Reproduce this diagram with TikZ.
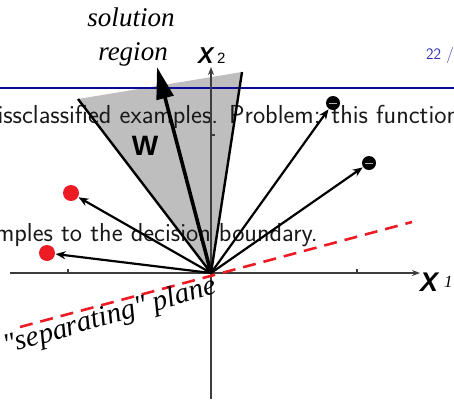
\documentclass[tikz,border=0pt]{standalone}
\usepackage{fontspec}
\usetikzlibrary{arrows.meta}
\newfontfamily\tmsfont{Liberation Serif}
\newfontfamily\hlvfont{Liberation Sans}
\definecolor{regiongray}{RGB}{190,190,190}
\definecolor{ballred}{RGB}{237,28,36}
\definecolor{dashred}{RGB}{237,28,36}
\definecolor{headblue}{RGB}{10,10,150}
\definecolor{pageblue}{RGB}{51,51,179}
\definecolor{axisgray}{RGB}{60,60,60}
\tikzset{
  slidetext/.style={inner sep=0pt, anchor=base west, font=\sffamily\fontsize{26}{30}\selectfont, text=black!90},
  axisline/.style={draw=axisgray, line width=1.5pt, -{Stealth[length=8pt,width=6pt]}},
  tickline/.style={draw=axisgray, line width=1.2pt},
  vec/.style={draw=black, line width=2.2pt, -{Stealth[length=10pt,width=8pt]}, shorten >=0.5pt},
  edgeline/.style={draw=black, line width=2.4pt},
  wvec/.style={draw=black, line width=3.6pt, -{Triangle[length=32pt,width=17pt]}},
  negball/.style={circle, fill=black, minimum size=14pt, inner sep=0pt,
    path picture={\draw[gray!60, line width=1pt] ([xshift=-4pt]path picture bounding box.center) -- ([xshift=4pt]path picture bounding box.center);}},
  posball/.style={circle, fill=ballred, minimum size=16pt, inner sep=0pt},
  seplabel/.style={font=\tmsfont\itshape\fontsize{27}{31}\selectfont, inner sep=0pt},
  axlabel/.style={font=\hlvfont\bfseries\itshape\fontsize{23}{26}\selectfont, inner sep=0pt, anchor=base west},
}
\begin{document}
\begin{tikzpicture}[x=1pt,y=-1pt]
\clip (0,0) rectangle (454,399);
\coordinate (O) at (211,273);
\coordinate (gl) at (78,99);
\coordinate (gr) at (242,72);
\coordinate (wt) at (157,67);
% solution region
\fill[regiongray] (O) -- (gl) -- (gr) -- cycle;
% slide text behind
\node[slidetext] (line1) at (-22,123) {missclassified examples. Problem: this function};
\node[slidetext] (line2) at (-39,241) {examples to the decision boundary.};
\node[inner sep=0pt, anchor=base west, font=\sffamily\fontsize{16}{19}\selectfont, text=pageblue] (page) at (426,59) {22 /};
\coordinate (bl) at (0,88);
\coordinate (br) at (454,88);
\draw[headblue, line width=2pt] (bl) -- (br);
% axes
\coordinate (xa) at (10,273);
\coordinate (xb) at (420,273);
\coordinate (ya) at (211,399);
\coordinate (yb) at (211,67);
\draw[axisline] (xa) -- (xb);
\draw[axisline] (ya) -- (yb);
\coordinate (t1a) at (68,273); \coordinate (t1b) at (68,269);
\coordinate (t2a) at (357,273); \coordinate (t2b) at (357,269);
\coordinate (t3a) at (211,135); \coordinate (t3b) at (215,135);
\draw[tickline] (t1a) -- (t1b);
\draw[tickline] (t2a) -- (t2b);
\draw[tickline] (t3a) -- (t3b);
% separating plane
\coordinate (sa) at (20,327);
\coordinate (sb) at (412,222);
\draw[dashred, line width=2.6pt, dash pattern=on 13pt off 8pt] (sa) -- (sb);
% region edges and w
\draw[edgeline] (O) -- (gl);
\draw[edgeline] (O) -- (gr);
\draw[wvec] (O) -- (wt);
% balls
\node[negball] (n1) at (333,103) {};
\node[negball] (n2) at (369,163) {};
\node[posball] (p1) at (71,193) {};
\node[posball] (p2) at (47,253) {};
\draw[vec] (O) -- (n1);
\draw[vec] (O) -- (n2);
\draw[vec] (O) -- (p1);
\draw[vec] (O) -- (p2);
% labels
\node[font=\hlvfont\bfseries\fontsize{28}{30}\selectfont, inner sep=0pt, anchor=base] (wl) at (145,155) {W};
\node[seplabel, anchor=base] (sol1) at (131,26) {solution};
\node[seplabel, anchor=base] (sol2) at (133,60) {region};
\node[seplabel, rotate=16, font=\tmsfont\itshape\fontsize{29}{32}\selectfont] (sep) at (110,317) {\symbol{34}separating\symbol{34} plane};
\node[axlabel, font=\hlvfont\bfseries\itshape\fontsize{27}{30}\selectfont] (x1) at (420,291) {X};
\node[inner sep=0pt, anchor=base west, font=\tmsfont\itshape\fontsize{17}{19}\selectfont] (x1s) at (444,287) {1};
\node[axlabel] (x2) at (198,63) {X};
\node[inner sep=0pt, anchor=base west, font=\hlvfont\fontsize{15}{17}\selectfont] (x2s) at (217,63) {2};
\end{tikzpicture}
\end{document}
